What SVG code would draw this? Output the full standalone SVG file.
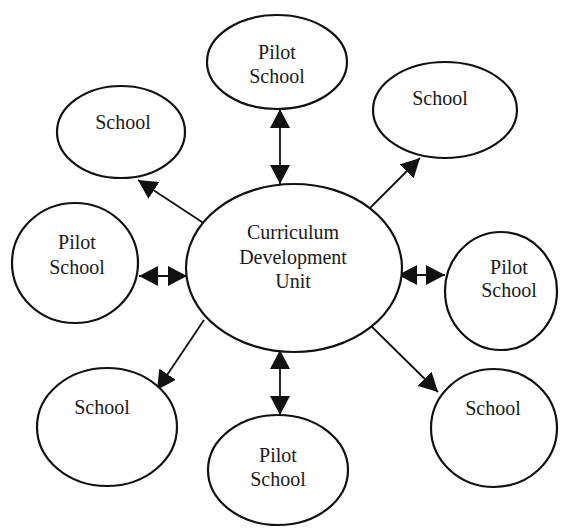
<svg xmlns="http://www.w3.org/2000/svg" width="565" height="530" viewBox="0 0 565 530">
<style>
.n{fill:#fff;stroke:#111;stroke-width:2.2}
.t{font-family:"Liberation Serif","Times New Roman",serif;font-size:20px;fill:#1a1a1a;text-anchor:middle}
.c{stroke:#111;stroke-width:1.8;fill:none}
</style>
<defs>
<marker id="ah" viewBox="0 0 19 20" refX="19" refY="10" markerWidth="19" markerHeight="20" markerUnits="userSpaceOnUse" orient="auto-start-reverse">
<path d="M0,0 L19,10 L0,20 z" fill="#111"/>
</marker>
</defs>
<rect width="565" height="530" fill="#fff"/>
<g id="connectors">
<line class="c" x1="280" y1="109" x2="280" y2="184" marker-start="url(#ah)" marker-end="url(#ah)"/>
<line class="c" x1="280" y1="350" x2="280" y2="415" marker-start="url(#ah)" marker-end="url(#ah)"/>
<line class="c" x1="139" y1="276" x2="187" y2="276" marker-start="url(#ah)" marker-end="url(#ah)"/>
<line class="c" x1="398" y1="275" x2="445" y2="275" marker-start="url(#ah)" marker-end="url(#ah)"/>
<line class="c" x1="205" y1="224" x2="138" y2="180" marker-end="url(#ah)"/>
<line class="c" x1="366" y1="212" x2="420" y2="158" marker-end="url(#ah)"/>
<line class="c" x1="204" y1="320" x2="157" y2="390" marker-end="url(#ah)"/>
<line class="c" x1="366" y1="321" x2="438" y2="392" marker-end="url(#ah)"/>
</g>
<g id="cdu">
<ellipse class="n" cx="294" cy="268" rx="108" ry="84"/>
<text class="t" x="293" y="239">Curriculum</text>
<text class="t" x="293" y="264">Development</text>
<text class="t" x="293" y="288">Unit</text>
</g>
<g id="pilot-top">
<ellipse class="n" cx="277" cy="62" rx="70" ry="47"/>
<text class="t" x="277" y="59">Pilot</text>
<text class="t" x="277" y="83">School</text>
</g>
<g id="school-tl">
<ellipse class="n" cx="121" cy="132" rx="64" ry="46"/>
<text class="t" x="123" y="129">School</text>
</g>
<g id="school-tr">
<ellipse class="n" cx="445" cy="110" rx="72" ry="48"/>
<text class="t" x="440" y="105">School</text>
</g>
<g id="pilot-left">
<ellipse class="n" cx="75" cy="263" rx="63" ry="60"/>
<text class="t" x="77" y="249">Pilot</text>
<text class="t" x="77" y="274">School</text>
</g>
<g id="pilot-right">
<ellipse class="n" cx="501" cy="291" rx="56" ry="59"/>
<text class="t" x="509" y="274">Pilot</text>
<text class="t" x="509" y="297">School</text>
</g>
<g id="school-bl">
<ellipse class="n" cx="107" cy="427" rx="70" ry="59"/>
<text class="t" x="102" y="414">School</text>
</g>
<g id="pilot-bottom">
<ellipse class="n" cx="278" cy="470" rx="70" ry="55"/>
<text class="t" x="278" y="462">Pilot</text>
<text class="t" x="278" y="486">School</text>
</g>
<g id="school-br">
<ellipse class="n" cx="494" cy="428" rx="63" ry="59"/>
<text class="t" x="493" y="415">School</text>
</g>
</svg>
